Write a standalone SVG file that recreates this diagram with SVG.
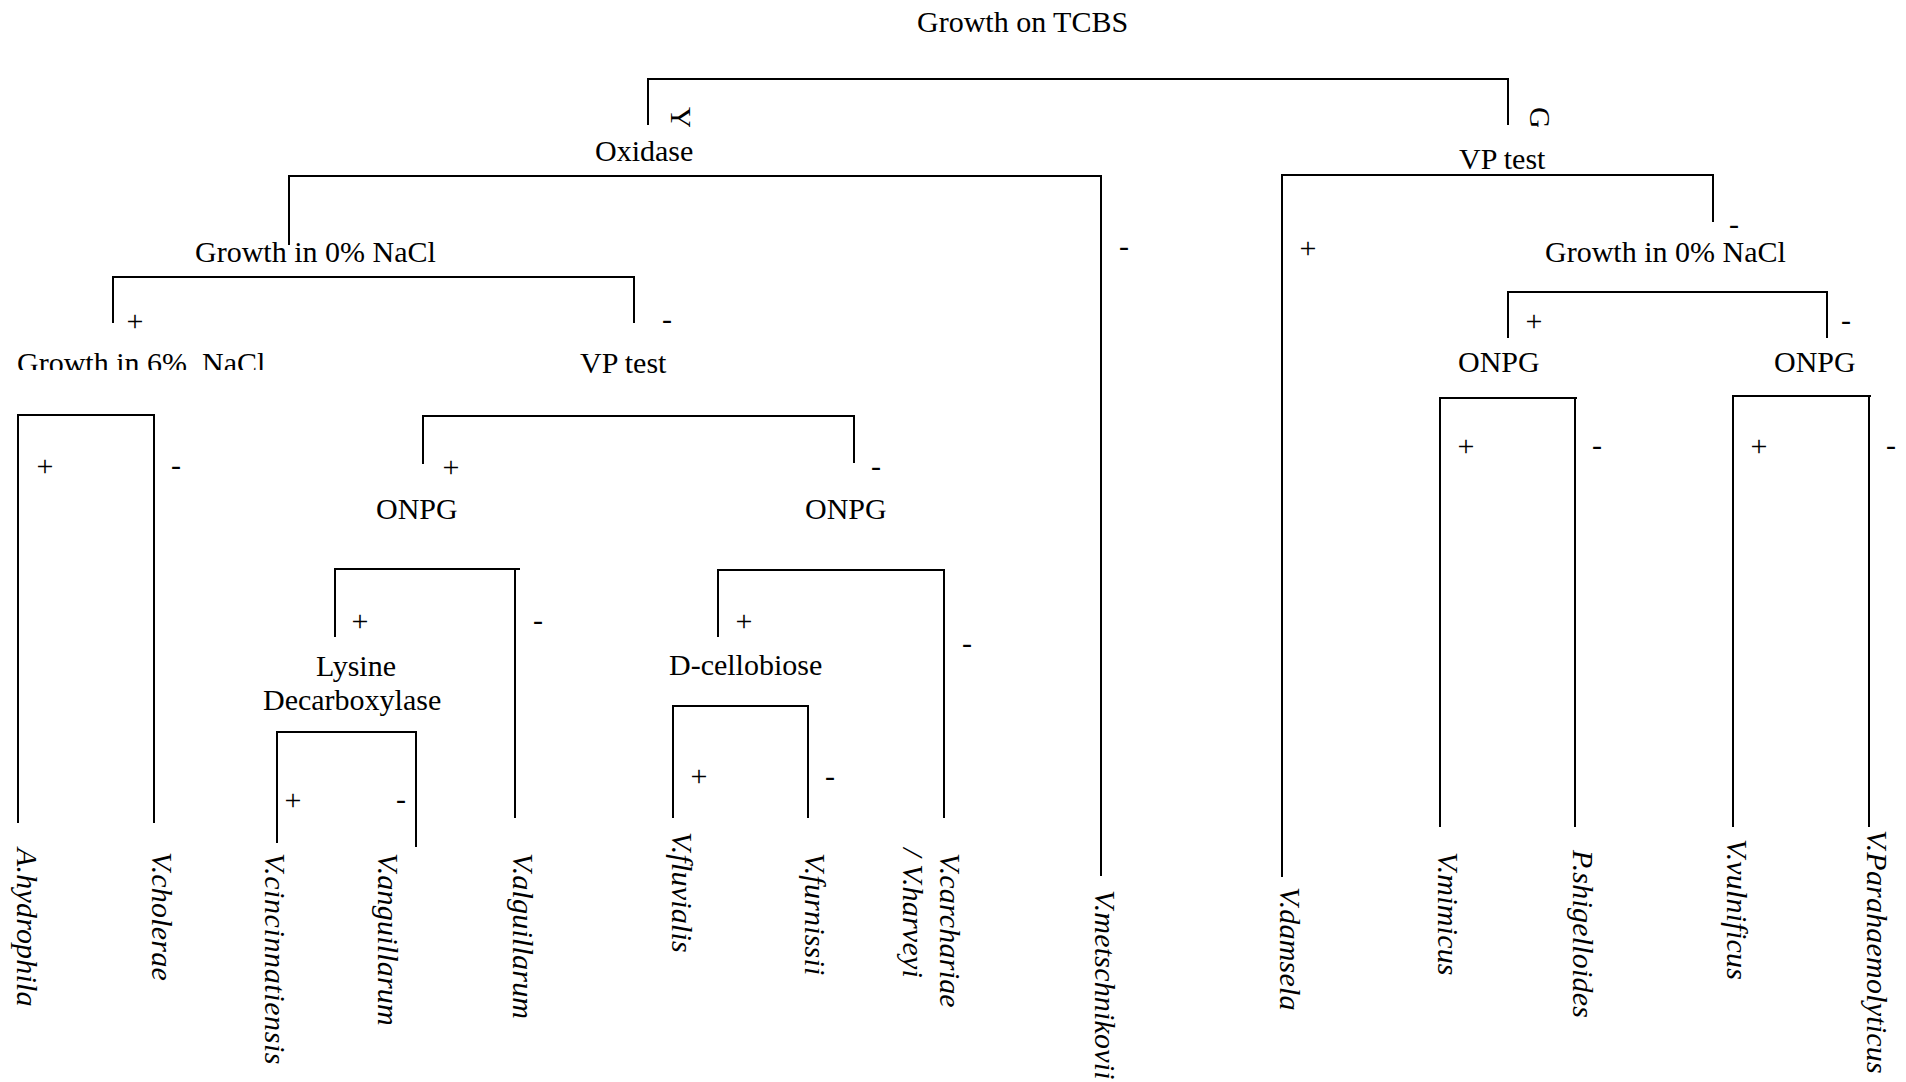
<svg xmlns="http://www.w3.org/2000/svg" width="1906" height="1082" viewBox="0 0 1906 1082">
<style>
.t{font-family:"Liberation Serif","Times New Roman",serif;font-size:30px;fill:#000;white-space:pre}
.sp{font-style:italic;letter-spacing:0.2px}
.pm{text-anchor:middle}
.ln{fill:none;stroke:#000;stroke-width:2}
</style>
<defs>
<clipPath id="clipYG"><rect x="0" y="0" width="1906" height="127"/></clipPath>
<clipPath id="clip6"><rect x="0" y="330" width="400" height="40"/></clipPath>
</defs>
<rect width="1906" height="1082" fill="#fff"/>

<g id="connectors">
<path class="ln" d="M648,125 V79 H1508 V125"/>
<path class="ln" d="M289,245 V176 H1101 V876"/>
<path class="ln" d="M113,323 V277 H634 V323"/>
<path class="ln" d="M18,823 V415 H154 V823"/>
<path class="ln" d="M423,464 V416 H854 V463"/>
<path class="ln" d="M335,637 V569 H520 M515,569 V818"/>
<path class="ln" d="M277,843 V732 H416 V847"/>
<path class="ln" d="M718,637 V570 H944 V818"/>
<path class="ln" d="M673,818 V706 H808 V818"/>
<path class="ln" d="M1282,877 V175 H1713 V222"/>
<path class="ln" d="M1508,338 V292 H1827 V338"/>
<path class="ln" d="M1440,827 V398 H1577 M1575,398 V827"/>
<path class="ln" d="M1733,827 V396 H1871 M1869,396 V827"/>
</g>

<g id="edge-labels">
<g clip-path="url(#clipYG)">
<text class="t" transform="translate(671,107) rotate(90)">Y</text>
<text class="t" transform="translate(1530,107) rotate(90)">G</text>
</g>
<text class="t pm" x="1124" y="256">-</text>
<text class="t pm" x="135" y="331">+</text>
<text class="t pm" x="667" y="329">-</text>
<text class="t pm" x="45" y="476">+</text>
<text class="t pm" x="176" y="475">-</text>
<text class="t pm" x="451" y="477">+</text>
<text class="t pm" x="876" y="476">-</text>
<text class="t pm" x="360" y="631">+</text>
<text class="t pm" x="538" y="630">-</text>
<text class="t pm" x="293" y="810">+</text>
<text class="t pm" x="401" y="809">-</text>
<text class="t pm" x="744" y="631">+</text>
<text class="t pm" x="967" y="653">-</text>
<text class="t pm" x="699" y="786">+</text>
<text class="t pm" x="830" y="786">-</text>
<text class="t pm" x="1308" y="258">+</text>
<text class="t pm" x="1734" y="234">-</text>
<text class="t pm" x="1534" y="331">+</text>
<text class="t pm" x="1846" y="330">-</text>
<text class="t pm" x="1466" y="456">+</text>
<text class="t pm" x="1597" y="455">-</text>
<text class="t pm" x="1759" y="456">+</text>
<text class="t pm" x="1891" y="455">-</text>
</g>

<g id="node-tcbs"><text class="t" x="917" y="32">Growth on TCBS</text></g>
<g id="node-oxidase"><text class="t" x="595" y="161">Oxidase</text></g>
<g id="node-vp-right"><text class="t" x="1459" y="169">VP test</text></g>
<g id="node-nacl0-left"><text class="t" x="195" y="262">Growth in 0% NaCl</text></g>
<g id="node-nacl0-right"><text class="t" x="1545" y="262">Growth in 0% NaCl</text></g>
<g id="node-nacl6"><text class="t" x="17" y="373" clip-path="url(#clip6)">Growth in 6%  NaCl</text></g>
<g id="node-vp-left"><text class="t" x="580" y="373">VP test</text></g>
<g id="node-onpg-1"><text class="t" x="376" y="519">ONPG</text></g>
<g id="node-onpg-2"><text class="t" x="805" y="519">ONPG</text></g>
<g id="node-onpg-3"><text class="t" x="1458" y="372">ONPG</text></g>
<g id="node-onpg-4"><text class="t" x="1774" y="372">ONPG</text></g>
<g id="node-lysine"><text class="t" x="316" y="676">Lysine</text><text class="t" x="263" y="710">Decarboxylase</text></g>
<g id="node-cellobiose"><text class="t" x="669" y="675">D-cellobiose</text></g>

<g id="leaf-hydrophila"><text class="t sp" transform="translate(17,848) rotate(90)">A.hydrophila</text></g>
<g id="leaf-cholerae"><text class="t sp" transform="translate(152,852) rotate(90)">V.cholerae</text></g>
<g id="leaf-cincinnatiensis"><text class="t sp" style="letter-spacing:0.6px" transform="translate(265,853) rotate(90)">V.cincinnatiensis</text></g>
<g id="leaf-anguillarum"><text class="t sp" transform="translate(378,853) rotate(90)">V.anguillarum</text></g>
<g id="leaf-alguillarum"><text class="t sp" transform="translate(513,853) rotate(90)">V.alguillarum</text></g>
<g id="leaf-fluvialis"><text class="t sp" transform="translate(672,832) rotate(90)">V.fluvialis</text></g>
<g id="leaf-furnissii"><text class="t sp" transform="translate(805,853) rotate(90)">V.furnissii</text></g>
<g id="leaf-carchariae"><text class="t sp" transform="translate(940,853) rotate(90)">V.carchariae</text><text class="t sp" transform="translate(903,848) rotate(90)">/ V.harveyi</text></g>
<g id="leaf-metschnikovii"><text class="t sp" transform="translate(1095,890) rotate(90)">V.metschnikovii</text></g>
<g id="leaf-damsela"><text class="t sp" transform="translate(1280,887) rotate(90)">V.damsela</text></g>
<g id="leaf-mimicus"><text class="t sp" transform="translate(1438,852) rotate(90)">V.mimicus</text></g>
<g id="leaf-shigelloides"><text class="t sp" transform="translate(1573,850) rotate(90)">P.shigelloides</text></g>
<g id="leaf-vulnificus"><text class="t sp" transform="translate(1727,839) rotate(90)">V.vulnificus</text></g>
<g id="leaf-parahaemolyticus"><text class="t sp" transform="translate(1867,830) rotate(90)">V.Parahaemolyticus</text></g>
</svg>
